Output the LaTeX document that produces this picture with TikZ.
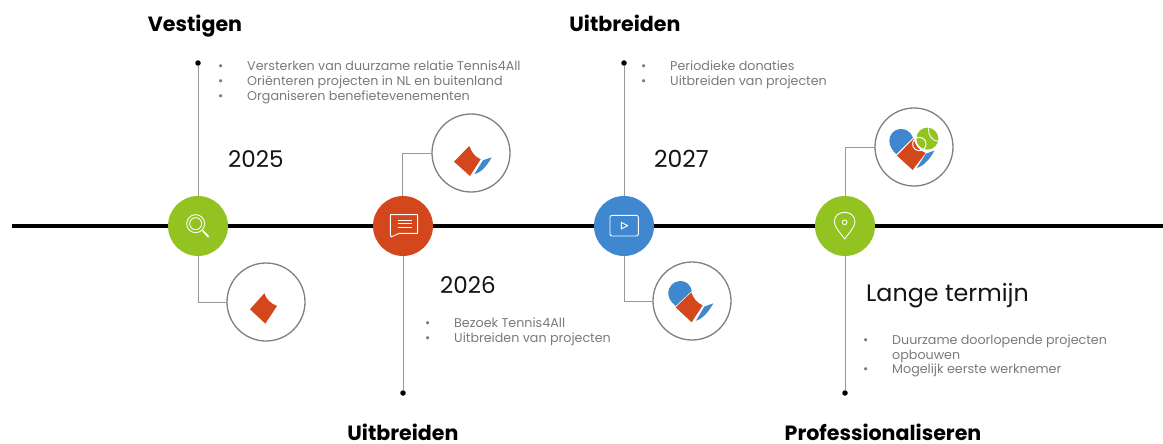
\documentclass[tikz,border=0pt]{standalone}
\usepackage{fontspec}
\setmainfont{Poppins}
\definecolor{lime}{HTML}{93C320}
\definecolor{rust}{HTML}{D4471C}
\definecolor{sky}{HTML}{3F87CE}
\definecolor{ink}{HTML}{7A7A7A}
\tikzset{
  hub/.style={circle,minimum size=60pt,inner sep=0pt,outer sep=0pt},
  ring/.style={circle,draw=black!50,line width=1.3pt,fill=white,minimum size=78pt,inner sep=0pt,outer sep=0pt},
  dotend/.style={circle,fill=black,minimum size=5.5pt,inner sep=0pt,outer sep=0pt},
  link/.style={draw=black!40,line width=1pt},
  head/.style={font=\fontsize{20.6}{24}\selectfont\bfseries,text=black,inner sep=0pt,anchor=base},
  year/.style={font=\fontsize{23}{26}\selectfont,text=black!92,inner sep=0pt,anchor=base west},
  body/.style={font=\fontsize{12.7}{15}\selectfont,text=ink,inner sep=0pt,anchor=base west},
  glyph/.style={draw=white,line width=.9pt,line join=round,fill=none},
  zoomed/.style={x=.3333pt,y=-.3333pt},
}
\begin{document}
\begin{tikzpicture}[x=1pt,y=-1pt]
\useasboundingbox (0,0) rectangle (1163,444);
\coordinate (lineL) at (12,226);
\coordinate (lineR) at (1163,226);
\draw[line width=3.3pt,black] (lineL) -- (lineR);

\node[hub,fill=lime] (m1) at (198,226) {};
\node[hub,fill=rust] (m2) at (403,226) {};
\node[hub,fill=sky]  (m3) at (624,226) {};
\node[hub,fill=lime] (m4) at (845,226) {};

\node[ring] (c1) at (266,302) {};
\node[ring] (c2) at (471,153) {};
\node[ring] (c3) at (692,301) {};
\node[ring] (c4) at (914,147) {};

\node[dotend] (d1) at (198,63) {};
\node[dotend] (d2) at (403,393) {};
\node[dotend] (d3) at (624,63) {};
\node[dotend] (d4) at (845,393) {};

\draw[link] (d1) -- (m1.north);
\draw[link] (m1.south) |- (c1.west);
\draw[link] (d2) -- (m2.south);
\draw[link] ([xshift=-1pt]m2.north) |- (c2.west);
\draw[link] (d3) -- (m3.north);
\draw[link] (m3.south) |- (c3.west);
\draw[link] (d4) -- (m4.south);
\draw[link] (m4.north) |- (c4.west);

% hub icons
\begin{scope}[shift={(150,180)},zoomed]
  \draw[glyph] (137,131) circle (27);
  \draw[glyph] (137,131) circle (18);
  \draw[glyph,line width=1.8pt,white] (158,152) -- (176,171);
\end{scope}
\begin{scope}[shift={(360,100)},zoomed]
  \draw[glyph] (91,344) -- (173,344) -- (173,400) -- (118,400) -- (93,411) -- (91,400) -- cycle;
  \draw[white,line width=.8pt] (114,361) -- (155,361) (114,371) -- (155,371) (114,381) -- (155,381);
\end{scope}
\begin{scope}[shift={(580,190)},zoomed]
  \draw[glyph,rounded corners=2pt] (90,76) rectangle (175,138);
  \draw[glyph] (124,97) -- (143,107) -- (124,117) -- cycle;
\end{scope}
\begin{scope}[shift={(800,100)},zoomed]
  \draw[glyph] (134,417) .. controls (120,398) and (103,380) .. (103,365) .. controls (103,347) and (118,337) .. (134,337) .. controls (150,337) and (165,347) .. (165,365) .. controls (165,380) and (148,398) .. (134,417) -- cycle;
  \draw[glyph] (134,367) circle (7);
\end{scope}

% badge artwork
\begin{scope}[shift={(150,180)},zoomed]
  \fill[rust] (343,340) .. controls (350,360) and (362,370) .. (381,378) -- (346,431) -- (300,388) -- cycle;
\end{scope}
\begin{scope}[shift={(360,100)},zoomed]
  \fill[rust] (328,138) .. controls (335,158) and (345,170) .. (362,178) -- (330,228) -- (282,185) -- cycle;
  \fill[sky] (395,172) -- (369,181) -- (343,222) .. controls (365,218) and (382,195) .. (395,172) -- cycle;
\end{scope}
\begin{scope}[shift={(580,190)},zoomed]
  \fill[sky] (287,348) -- (335,303) .. controls (333,285) and (318,272) .. (300,273) .. controls (280,274) and (264,290) .. (265,312) .. controls (266,326) and (275,338) .. (287,348) -- cycle;
  \fill[rust] (334,307) .. controls (340,325) and (350,338) .. (368,346) -- (335,397) -- (287,352) -- cycle;
  \fill[sky] (400,340) -- (373,350) -- (348,392) .. controls (370,386) and (388,362) .. (400,340) -- cycle;
\end{scope}
\begin{scope}[shift={(800,100)},zoomed]
  \fill[sky] (289,163) -- (339,113) .. controls (332,95) and (318,86) .. (300,87) .. controls (282,88) and (267,104) .. (268,124) .. controls (269,140) and (278,152) .. (289,163) -- cycle;
  \fill[sky] (403,152) -- (378,161) -- (350,204) .. controls (372,198) and (392,174) .. (403,152) -- cycle;
  \fill[rust] (341,116) .. controls (345,135) and (355,150) .. (377,159) -- (338,210) -- (291,167) -- cycle;
  \fill[lime] (382,116) circle (33);
  \draw[white,line width=.8pt] (385,85) .. controls (385,105) and (395,122) .. (414,124);
  \draw[white,line width=1pt,fill=none] (358,132) circle (20);
\end{scope}

% headings
\node[head] (h1) at (195,31.5) {Vestigen};
\node[head] (h2) at (625,31.5) {Uitbreiden};
\node[head] (h3) at (403,440.5) {Uitbreiden};
\node[head] (h4) at (883,440) {Professionaliseren};

% years
\node[year] (y1) at (228,167) {2025};
\node[year] (y2) at (440,293) {2026};
\node[year,font=\fontsize{23.5}{26}\selectfont] (y3) at (654,167) {2027};
\node[year,font=\fontsize{23.8}{26}\selectfont] (y4) at (866,301) {Lange termijn};

% lists
\node[body] (b11) at (218,71) {•};
\node[body] (t11) at (247,71) {Versterken van duurzame relatie Tennis4All};
\node[body] (b12) at (218,86) {•};
\node[body] (t12) at (247,86) {Oriënteren projecten in NL en buitenland};
\node[body] (b13) at (218,101) {•};
\node[body] (t13) at (247,101) {Organiseren benefietevenementen};

\node[body] (b21) at (425,327) {•};
\node[body] (t21) at (454,327) {Bezoek Tennis4All};
\node[body] (b22) at (425,342) {•};
\node[body] (t22) at (454,342) {Uitbreiden van projecten};

\node[body] (b31) at (641,71) {•};
\node[body] (t31) at (670,71) {Periodieke donaties};
\node[body] (b32) at (641,86) {•};
\node[body] (t32) at (670,86) {Uitbreiden van projecten};

\node[body] (b41) at (863,344) {•};
\node[body] (t41) at (892,344) {Duurzame doorlopende projecten};
\node[body] (t41b) at (892,359) {opbouwen};
\node[body] (b42) at (863,373.5) {•};
\node[body] (t42) at (892,373.5) {Mogelijk eerste werknemer};
\end{tikzpicture}
\end{document}
